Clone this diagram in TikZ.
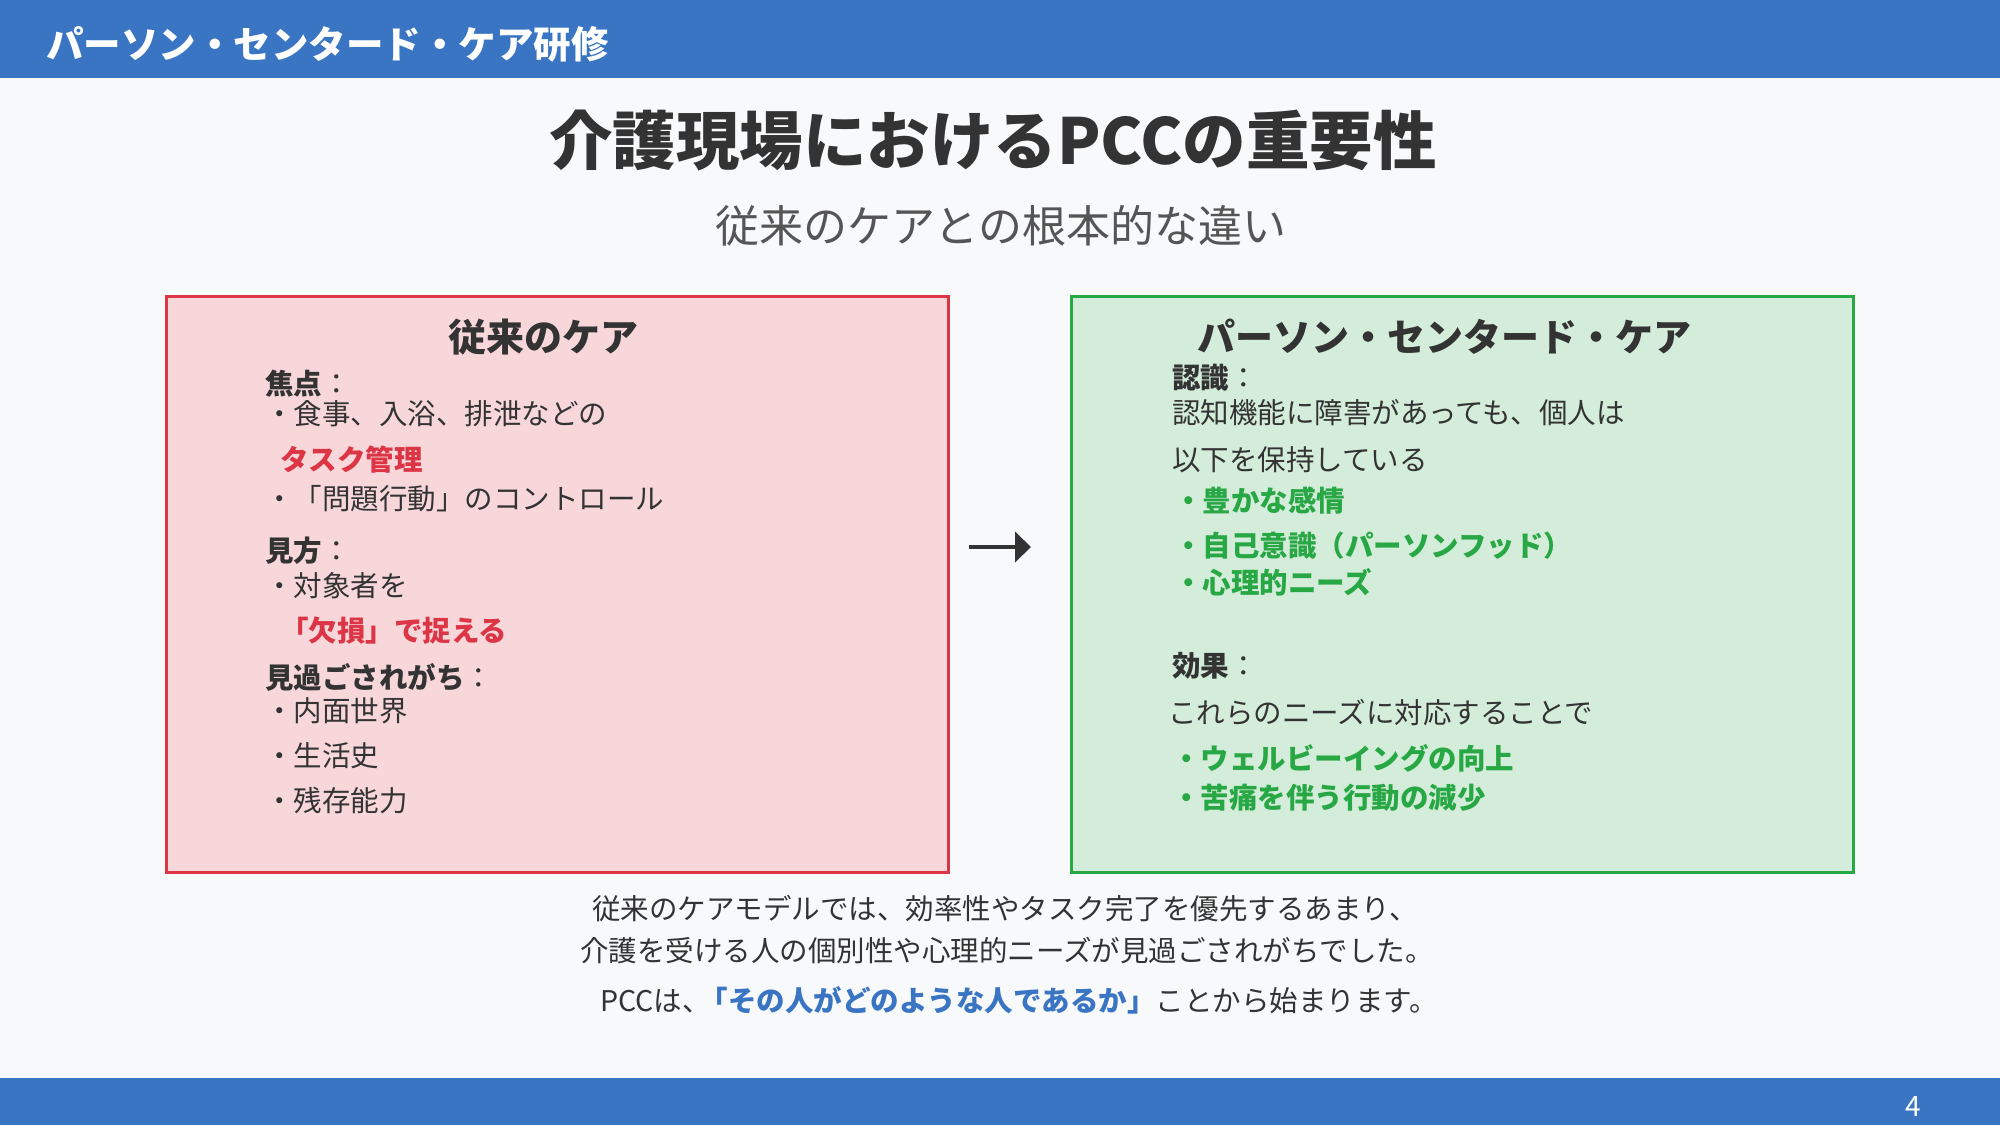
\documentclass[tikz,border=0pt]{standalone}
\usepackage{fontspec}
\setmainfont{Noto Sans CJK JP}
\usetikzlibrary{arrows.meta}
\definecolor{barblue}{HTML}{3A75C4}
\definecolor{pagebg}{HTML}{F8F9FB}
\definecolor{txt}{HTML}{333333}
\definecolor{subtxt}{HTML}{555555}
\definecolor{redfill}{HTML}{F8D7DA}
\definecolor{redline}{HTML}{DC3545}
\definecolor{greenfill}{HTML}{D4EDDA}
\definecolor{greenline}{HTML}{28A745}
\newcommand{\plaincolon}{{\mdseries ：}}
\begin{document}
\begin{tikzpicture}[x=1pt,y=-1pt,
  body/.style={anchor=base west, inner sep=0pt, text=txt, font=\fontsize{28.5}{34}\selectfont},
  bodybold/.style={body, font=\fontsize{28.5}{34}\selectfont\bfseries},
  redbold/.style={bodybold, text=redline},
  greenbold/.style={bodybold, text=greenline},
  heading/.style={anchor=base, inner sep=0pt, text=txt, font=\fontsize{38}{44}\selectfont\bfseries},
  centerline/.style={anchor=base, inner sep=0pt, text=txt, font=\fontsize{28.5}{34}\selectfont},
  panel/.style={draw, line width=3pt, minimum width=782pt, minimum height=576pt, inner sep=0pt},
  flow/.style={draw=txt, line width=4pt, -{Triangle[length=16pt,width=30pt]}}
]
% background and bars
\fill[pagebg] (0,0) rectangle (2000,1125);
\fill[barblue] (0,0) rectangle (2000,78);
\fill[barblue] (0,1078) rectangle (2000,1125);

\node[anchor=base west, inner sep=0pt, text=white, font=\fontsize{37.5}{44}\selectfont\bfseries] (bartitle) at (46,58) {パーソン・センタード・ケア研修};
\node[anchor=base, inner sep=0pt, text=white, font=\fontsize{28}{32}\selectfont] (pagenum) at (1913,1116) {4};

% titles
\node[anchor=base, inner sep=0pt, text=txt, font=\fontsize{63.5}{72}\selectfont\bfseries] (maintitle) at (993,164) {介護現場におけるPCCの重要性};
\node[anchor=base, inner sep=0pt, text=subtxt, font=\fontsize{44}{50}\selectfont] (subtitle) at (1001,242) {従来のケアとの根本的な違い};

% panels
\node[panel, draw=redline, fill=redfill] (lbox) at (557,584) {};
\node[panel, draw=greenline, fill=greenfill] (rbox) at (1462,584) {};

% left panel content
\node[heading] (lhead) at (543,351) {従来のケア};
\node[bodybold] (l1) at (265,394) {焦点\plaincolon};
\node[body] (l2) at (265,424) {・食事、入浴、排泄などの};
\node[redbold] (l3) at (280,470) {タスク管理};
\node[body] (l4) at (265,509) {・「問題行動」のコントロール};
\node[bodybold] (l5) at (265,561) {見方\plaincolon};
\node[body] (l6) at (265,596) {・対象者を};
\node[redbold] (l7) at (280,641) {「欠損」で捉える};
\node[bodybold] (l8) at (265,688) {見過ごされがち\plaincolon};
\node[body] (l9) at (265,721) {・内面世界};
\node[body] (l10) at (265,766) {・生活史};
\node[body] (l11) at (265,811) {・残存能力};

% right panel content
\node[heading] (rhead) at (1444,351) {パーソン・センタード・ケア};
\node[bodybold] (r1) at (1172,388) {認識\plaincolon};
\node[body] (r2) at (1172,423) {認知機能に障害があっても、個人は};
\node[body] (r3) at (1172,470) {以下を保持している};
\node[greenbold] (r4) at (1174,511) {・豊かな感情};
\node[greenbold] (r5) at (1174,556) {・自己意識（パーソンフッド）};
\node[greenbold] (r6) at (1174,593) {・心理的ニーズ};
\node[bodybold] (r7) at (1172,676) {効果\plaincolon};
\node[body] (r8) at (1168,723) {これらのニーズに対応することで};
\node[greenbold] (r9) at (1172,769) {・ウェルビーイングの向上};
\node[greenbold] (r10) at (1172,808) {・苦痛を伴う行動の減少};

% arrow between panels
\coordinate (arrS) at (969,547);
\coordinate (arrE) at (1031,547);
\draw[flow] (arrS) -- (arrE);

% bottom text
\node[centerline] (b1) at (1005,919) {従来のケアモデルでは、効率性やタスク完了を優先するあまり、};
\node[centerline] (b2) at (1007,961) {介護を受ける人の個別性や心理的ニーズが見過ごされがちでした。};
\node[centerline] (b3) at (1019,1011) {PCCは、\kern-11pt{\bfseries\color{barblue}「その人がどのような人であるか」}ことから始まります。};
\end{tikzpicture}
\end{document}
